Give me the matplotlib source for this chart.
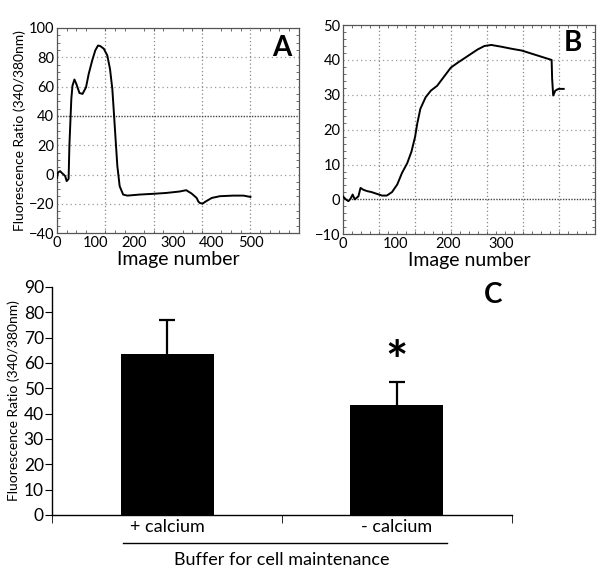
import numpy as np
import matplotlib
matplotlib.use('Agg')
import matplotlib.pyplot as plt
from matplotlib.ticker import MultipleLocator
import matplotlib.transforms as mtransforms

plt.rcParams['font.family'] = ['Lato', 'DejaVu Sans']

# Panel A trace (image number, ratio)
a_img = [0, 2, 8, 12, 17, 21, 25, 30, 32, 37, 40, 45, 50, 58, 66, 75, 82, 91, 99,
         106, 112, 121, 130, 137, 143, 147, 152, 156, 162, 171, 182, 213, 247, 282,
         317, 334, 348, 361, 365, 369, 376, 385, 400, 421, 456, 482, 500]
a_ratio = [-2.3, 1.2, 2.3, 1.2, 0, -1, -4.5, -3, 19.5, 51.5, 60.6, 64.8, 61.8, 55.6,
           55, 59.5, 68.7, 77.8, 84.7, 88, 87.6, 85.8, 81.2, 72, 58.4, 42.3, 21.8,
           5.7, -8, -13.7, -14.4, -13.7, -13.2, -12.6, -11.6, -10.7, -13, -16,
           -18.3, -19.4, -19.9, -18.3, -16, -14.8, -14.4, -14.4, -15.3]

# Panel B trace
b_img = [0, 5, 10, 14, 18, 22, 29, 33, 38, 45, 54, 64, 74, 83, 93, 103, 112, 122,
         130, 137, 141, 147, 157, 167, 179, 192, 205, 218, 231, 244, 256, 269, 282,
         301, 321, 340, 359, 378, 397, 398, 400, 404, 410, 420]
b_ratio = [0.8, 0, -0.5, 0.2, 1.4, 0, 0.9, 3.3, 2.8, 2.4, 2.1, 1.6, 1.1, 1.1, 2.1,
           4.3, 7.6, 10.4, 13.7, 18, 21.7, 26, 29.3, 31.2, 32.6, 35.2, 37.8, 39.2,
           40.5, 41.8, 43, 44, 44.3, 43.8, 43.2, 42.7, 41.8, 40.9, 40, 34.5, 29.8,
           31.2, 31.7, 31.7]

# Panel C bars
groups = ['+ calcium', '- calcium']
means = [63.5, 43.5]
sem = [13.5, 9.0]

ylab = 'Fluorescence Ratio (340/380nm)'

fig = plt.figure(figsize=(6, 5.7), dpi=100)


def trace_panel(ax, x, y, xlim, ylim, xgrid, ygrid, strong_y, letter, lx, ly):
    ax.plot(x, y, color='black', lw=1.4, zorder=3)
    ax.set_xlim(*xlim)
    ax.set_ylim(*ylim)
    for gx in xgrid:
        ax.axvline(gx, color='#888888', ls=(0, (1, 2)), lw=0.9, zorder=1)
    for gy in ygrid:
        if gy == strong_y:
            ax.axhline(gy, color='#444444', ls=(0, (1, 1)), lw=1.0, zorder=1)
        else:
            ax.axhline(gy, color='#999999', ls=(0, (1, 2.5)), lw=0.9, zorder=1)
    ax.tick_params(which='both', direction='in', top=True, right=True,
                   color='#555555', labelsize=10.5, pad=2)
    ax.tick_params(which='major', length=0)
    ax.tick_params(which='minor', length=2.5, width=0.6)
    for s in ax.spines.values():
        s.set_color('#555555')
        s.set_linewidth(0.9)
    ax.set_xlabel('Image number', fontsize=14, labelpad=1)
    ax.text(lx, ly, letter, transform=ax.transAxes, fontsize=20,
            fontweight='bold', ha='center', va='center')


# --- A ---
axA = fig.add_axes([0.095, 0.591, 0.403, 0.360])
trace_panel(axA, a_img, a_ratio, (0, 625), (-40, 100),
            np.arange(125, 625, 125), np.arange(-20, 100, 20), 40, 'A', 0.93, 0.90)
axA.set_xticks([0, 100, 200, 300, 400, 500])
axA.yaxis.set_major_locator(MultipleLocator(20))
axA.xaxis.set_minor_locator(MultipleLocator(25))
axA.yaxis.set_minor_locator(MultipleLocator(5))
axA.set_ylabel(ylab, fontsize=10, labelpad=2)

# --- B ---
axB = fig.add_axes([0.572, 0.589, 0.420, 0.367])
trace_panel(axB, b_img, b_ratio, (0, 480), (-10, 50),
            np.arange(1, 7) * 480 / 7, np.arange(0, 50, 10), 0, 'B', 0.913, 0.914)
axB.set_xticks([0, 100, 200, 300])
axB.yaxis.set_major_locator(MultipleLocator(10))
axB.xaxis.set_minor_locator(MultipleLocator(480 / 28))
axB.yaxis.set_minor_locator(MultipleLocator(2))

# --- C ---
axC = fig.add_axes([0.087, 0.0965, 0.766, 0.400])
xpos = np.arange(len(groups))
axC.errorbar(xpos, means, yerr=sem, fmt='none', ecolor='black',
             elinewidth=1.6, capsize=6, capthick=1.6, zorder=2)
axC.bar(xpos, means, width=0.405, color='black', zorder=3)
axC.set_xlim(-0.5, 1.5)
axC.set_ylim(0, 90)
axC.spines['top'].set_visible(False)
axC.spines['right'].set_visible(False)
axC.spines['left'].set_linewidth(1.0)
axC.spines['bottom'].set_linewidth(1.0)
axC.yaxis.set_major_locator(MultipleLocator(10))
axC.tick_params(axis='y', direction='out', length=5, labelsize=12.5, pad=1)
axC.set_xticks(xpos)
axC.set_xticklabels(groups, fontsize=13)
axC.set_xticks([-0.5, 0.5, 1.5], minor=True)
axC.tick_params(axis='x', which='major', length=0, pad=3)
axC.tick_params(axis='x', which='minor', direction='out', length=6)
axC.set_ylabel(ylab, fontsize=10, labelpad=3)
axC.text(1, 59.5, '*', fontsize=38, fontweight='bold', ha='center', va='center')

trans = mtransforms.blended_transform_factory(axC.transData, axC.transAxes)
axC.plot([-0.19, 1.22], [-0.123, -0.123], color='black', lw=1.0,
         transform=trans, clip_on=False)
axC.text(0.5, -0.197, 'Buffer for cell maintenance', transform=axC.transAxes,
         fontsize=13, ha='center', va='center')
fig.text(0.822, 0.482, 'C', fontsize=20, fontweight='bold', ha='center', va='center')

fig.savefig('out.png', dpi=100)
